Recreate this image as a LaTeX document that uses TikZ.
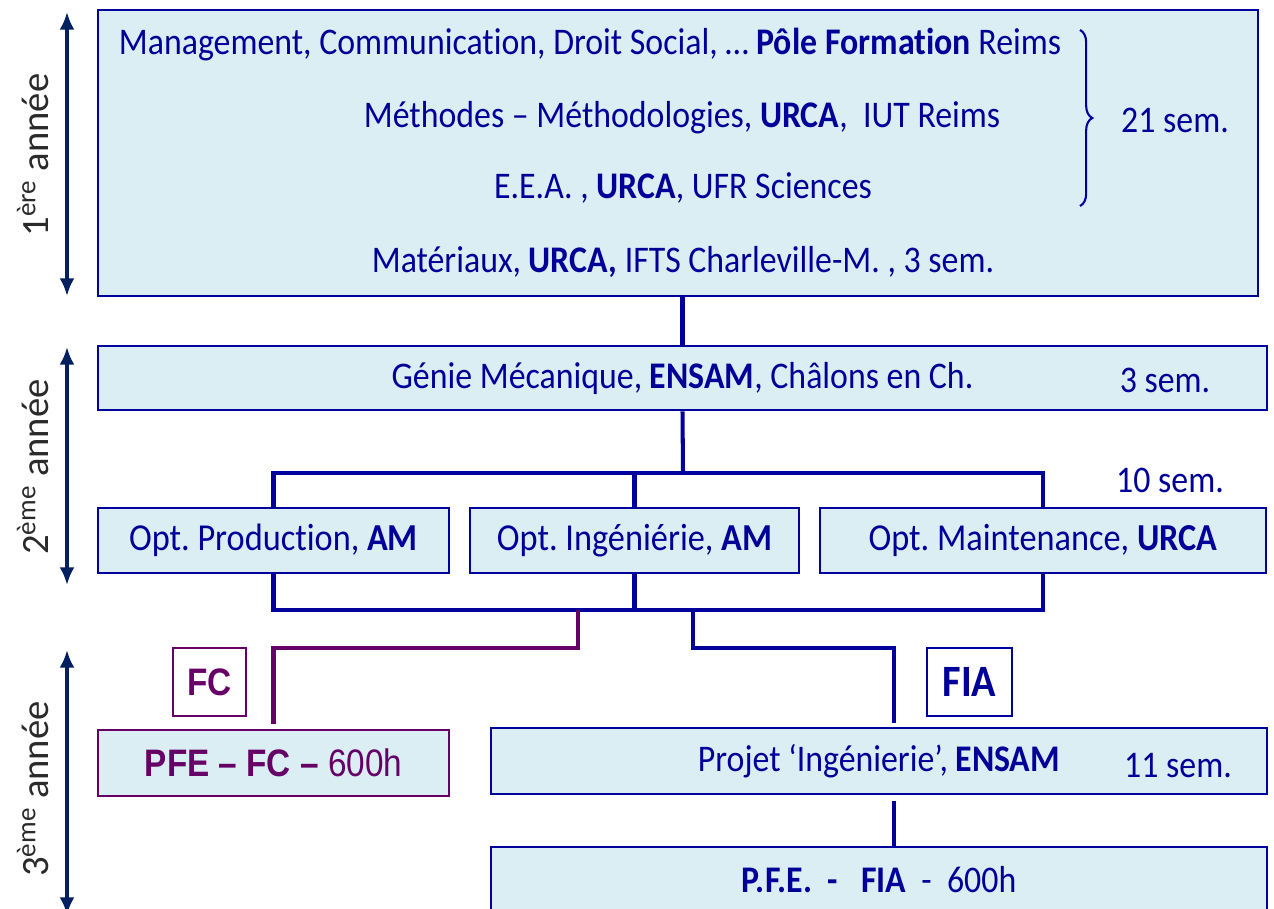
\documentclass[tikz,border=0pt]{standalone}
\usepackage{fontspec}
\setmainfont[Ligatures=NoCommon, FakeStretch=0.9]{Carlito}
\newfontfamily\yearfont{Carlito}
\newfontfamily\arialfont[FakeStretch=0.87]{Liberation Sans}
\usepackage{xcolor}
\usepackage{tikz}
\usetikzlibrary{arrows.meta, positioning, calc, decorations.pathreplacing}
\definecolor{navy}{HTML}{002060}
\definecolor{txtblue}{HTML}{000099}
\definecolor{lineblue}{HTML}{00009C}
\definecolor{boxfill}{HTML}{DAEEF3}
\definecolor{fcpurple}{HTML}{660066}
\definecolor{yeargray}{HTML}{2A2A2A}
\frenchspacing

\begin{document}
\begin{tikzpicture}[
  x=0.02cm, y=-0.02cm,
  txt/.style={font=\fontsize{21.4}{25}\selectfont, text=txtblue, inner sep=0pt},
  bigbox/.style={rectangle, draw=lineblue, line width=1.5pt, fill=boxfill, inner sep=0pt},
  optbox/.style={rectangle, draw=lineblue, line width=1pt, fill=boxfill, inner sep=0pt, minimum height=1.3cm, font=\fontsize{21.7}{25}\selectfont, text=txtblue},
  tagbox/.style={rectangle, draw, line width=1pt, fill=white, inner sep=0pt, minimum height=1.36cm},
  link/.style={draw=lineblue, line width=2.3pt},
  fclink/.style={draw=fcpurple, line width=2.3pt},
  year/.style={rotate=90, font=\yearfont\fontsize{22}{24}\selectfont, text=yeargray},
  yeararrow/.style={{Latex[length=10pt,width=8.5pt]}-{Latex[length=10pt,width=8.5pt]}, draw=navy, line width=2.3pt},
]
  \useasboundingbox (0,0) rectangle (1274,909);
  \clip (0,0) rectangle (1274,909);

  % 1ere annee
  \node[bigbox, minimum width=23.2cm, minimum height=5.72cm] (urca) at (678,153) {};
  \node[txt] (mgmt) at (590,45) {Management, Communication, Droit Social, … \textbf{Pôle Formation} Reims};
  \node[txt] (meth) at (682,118) {Méthodes – Méthodologies, \textbf{URCA},\ \ IUT Reims};
  \node[txt] (eea) at (683,188) {E.E.A. , \textbf{URCA}, UFR Sciences};
  \node[txt] (mat) at (683,262) {Matériaux, \textbf{URCA,} IFTS Charleville-M. , 3 sem.};
  \draw[lineblue, line width=1.2pt, decorate, decoration={brace, amplitude=7pt}] (1080,30) -- (1080,206);
  \node[txt] (sem21) at (1175,120) {21 sem.};

  % 2eme annee
  \node[bigbox, minimum width=23.38cm, minimum height=1.28cm, txt] (ensam) at (682.5,378) {Génie Mécanique, \textbf{ENSAM}, Châlons en Ch.};
  \node[txt] (sem3) at (1165,380) {3 sem.};
  \node[txt] (sem10) at (1170,480) {10 sem.};
  \node[optbox, minimum width=7.02cm] (prod) at (273.5,540.5) {Opt. Production, \textbf{AM}};
  \node[optbox, minimum width=6.58cm] (inge) at (634.5,540.5) {Opt. Ingéniérie, \textbf{AM}};
  \node[optbox, minimum width=8.92cm] (maint) at (1043,540.5) {Opt. Maintenance, \textbf{URCA}};

  \draw[link] (ensam.north) -- (ensam.north |- urca.south);
  \coordinate (bustop) at (683,473);
  \coordinate (busbot) at (683,610);
  \draw[link] (ensam.south) -- (bustop);
  \draw[link] (prod.north) |- (bustop) -| (maint.north);
  \draw[link] (inge.north) -- (inge.north |- bustop);
  \draw[link] (prod.south) |- (busbot) -| (maint.south);
  \draw[link] (inge.south) -- (inge.south |- busbot);

  % 3eme annee
  \node[tagbox, draw=fcpurple, minimum width=1.46cm, font=\arialfont\bfseries\fontsize{21.8}{24}\selectfont, text=fcpurple] (fc) at (209.5,682) {FC};
  \node[tagbox, draw=lineblue, minimum width=1.7cm, font=\bfseries\fontsize{25.5}{28}\selectfont, text=txtblue] (fia) at (969.5,682) {FIA};
  \node[bigbox, draw=fcpurple, line width=1pt, minimum width=7.02cm, minimum height=1.32cm, font=\arialfont\fontsize{21.8}{24}\selectfont, text=fcpurple] (pfefc) at (273.5,763) {\textbf{PFE – FC –} 600h};
  \node[bigbox, minimum width=15.52cm, minimum height=1.32cm, txt] (projet) at (879,761) {Projet ‘Ingénierie’, \textbf{ENSAM}};
  \node[txt] (sem11) at (1178,766) {11 sem.};
  \node[bigbox, minimum width=15.52cm, minimum height=1.32cm, txt] (pfefia) at (879,880) {\textbf{P.F.E.\ \ -\ \ \ FIA}\ \ -\ \ 600h};

  \coordinate (fcsplit) at (578,610);
  \coordinate (fiasplit) at (693,610);
  \coordinate (fiadrop) at (894,648);
  \draw[fclink] (fcsplit) -- (578,648) -| ([yshift=3pt]pfefc.north);
  \draw[link] (fiasplit) |- (fiadrop) -- ([yshift=2pt]fiadrop |- projet.north);
  \draw[link] ([yshift=-3pt]fiadrop |- projet.south) -- (fiadrop |- pfefia.north);

  % annees
  \draw[yeararrow] (67,12) -- (67,296);
  \draw[yeararrow] (67,347) -- (67,585);
  \draw[yeararrow] (67,650) -- (67,915);
  \node[year] (an1) at (33,155) {1\textsuperscript{ère} année};
  \node[year] (an2) at (33,467) {2\textsuperscript{ème} année};
  \node[year] (an3) at (33,789) {3\textsuperscript{ème} année};

\end{tikzpicture}
\end{document}
